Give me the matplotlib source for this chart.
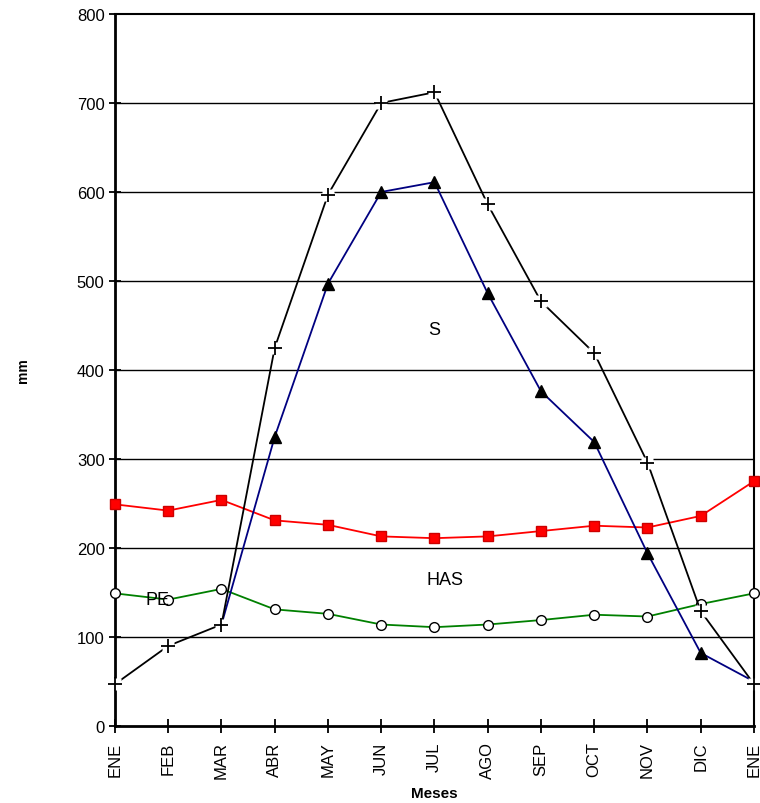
import matplotlib
matplotlib.use("Agg")
import matplotlib.pyplot as plt

plt.rcParams['font.family'] = ['Liberation Sans', 'DejaVu Sans']

meses = ['ENE', 'FEB', 'MAR', 'ABR', 'MAY', 'JUN', 'JUL', 'AGO', 'SEP', 'OCT', 'NOV', 'DIC', 'ENE']
x = list(range(len(meses)))

# serie con cruces (negra)
s_cruz = [47, 90, 114, 425, 597, 700, 712, 586, 477, 419, 296, 129, 47]
# serie con triangulos (azul), empieza en MAR
s_tri = [114, 325, 497, 600, 611, 486, 376, 319, 194, 82, 50]
# serie con cuadrados (roja)
s_cuad = [249, 242, 254, 231, 226, 213, 211, 213, 219, 225, 223, 236, 275]
# serie con circulos (verde)
s_circ = [149, 142, 154, 131, 126, 114, 111, 114, 119, 125, 123, 137, 149]

fig = plt.figure(figsize=(7.6, 8.04), dpi=100)
ax = fig.add_axes([0.1513, 0.0958, 0.8408, 0.8856])

for v in range(100, 800, 100):
    ax.axhline(v, color='black', lw=1, zorder=1)

ax.plot(x, s_circ, color='#008000', lw=1.3, marker='o', ms=7,
        mfc='white', mec='black', mew=1, zorder=3, clip_on=False)
ax.plot(x, s_cuad, color='#ff0000', lw=1.3, marker='s', ms=7,
        mfc='#ff0000', mec='#cc0000', mew=1, zorder=3, clip_on=False)
ax.plot(x[2:], s_tri, color='#000080', lw=1.3, zorder=3, clip_on=False)
ax.plot(x[3:12], s_tri[1:10], ls='none', marker='^', ms=8.5,
        mfc='black', mec='black', zorder=4, clip_on=False)
ax.plot(x, s_cruz, color='black', lw=1.3, zorder=4, clip_on=False)
ax.plot(x, s_cruz, ls='none', marker='s', ms=8, mfc='white', mec='none',
        zorder=5, clip_on=False)
ax.plot(x, s_cruz, ls='none', marker='+', ms=10, mec='black', mew=1.3,
        zorder=6, clip_on=False)

ax.text(6.0, 446, 'S', fontsize=13, ha='center', va='center')
ax.text(6.2, 165, 'HAS', fontsize=13, ha='center', va='center')
ax.text(0.8, 142, 'PE', fontsize=13, ha='center', va='center')

ax.set_xlim(0, 12)
ax.set_ylim(0, 800)
ax.set_yticks(range(0, 801, 100))
ax.set_xticks(x)
ax.set_xticklabels(meses, rotation=90, fontsize=12)
ax.tick_params(axis='y', labelsize=12, direction='inout', length=8, width=1.3)
ax.tick_params(axis='x', direction='inout', length=10, width=1.3, pad=6)
for sp in ax.spines.values():
    sp.set_linewidth(1.5)
ax.spines['left'].set_linewidth(2)
ax.spines['bottom'].set_linewidth(2)

ax.set_xlabel('Meses', fontsize=11, fontweight='bold')
ax.xaxis.set_label_coords(0.5, -0.085)
ax.set_ylabel('mm', fontsize=10, fontweight='bold')
ax.yaxis.set_label_coords(-0.133, 0.5)

fig.savefig('out.png', dpi=100)
